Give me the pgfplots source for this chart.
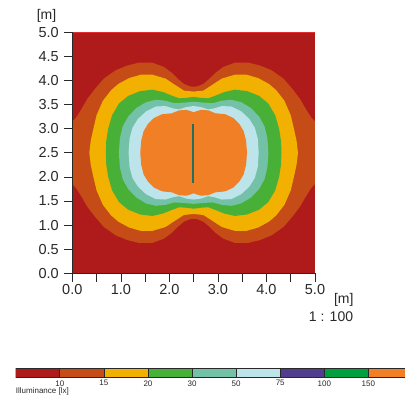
\documentclass[border=0pt]{standalone}
\usepackage{fontspec}
\setmainfont{Liberation Sans}
\usepackage{pgfplots}
\pgfplotsset{compat=1.18}
\definecolor{cA}{RGB}{175,27,27}
\definecolor{cB}{RGB}{197,75,23}
\definecolor{cC}{RGB}{242,177,0}
\definecolor{cD}{RGB}{72,175,55}
\definecolor{cE}{RGB}{115,194,167}
\definecolor{cF}{RGB}{189,227,235}
\definecolor{cG}{RGB}{82,60,143}
\definecolor{cH}{RGB}{0,160,64}
\definecolor{cI}{RGB}{240,127,38}
\definecolor{lum}{RGB}{35,110,95}
\definecolor{edge}{RGB}{225,45,45}
\definecolor{txt}{RGB}{40,40,40}
\begin{document}
\begin{tikzpicture}
\useasboundingbox (0pt,0pt) rectangle (405pt,398pt);
\begin{axis}[at={(72.3pt,124.7pt)}, anchor=south west, scale only axis,
  width=242.7pt, height=241pt,
  xmin=0, xmax=5, ymin=0, ymax=5,
  axis lines*=left, axis on top,
  axis line style={txt, line width=0.6pt},
  tick align=outside, major tick length=8.5pt, minor tick length=8.5pt,
  tick style={txt, line width=0.6pt},
  xtick={0,1,2,3,4,5}, minor xtick={0.5,1.5,2.5,3.5,4.5},
  ytick={0,0.5,1,1.5,2,2.5,3,3.5,4,4.5,5},
  /pgf/number format/assume math mode=true,
  /pgf/number format/.cd, fixed, fixed zerofill, precision=1, /pgfplots/.cd,
  ticklabel style={font=\fontsize{14.5}{17}\selectfont, text=txt},
  yticklabel style={xshift=-1.5pt},
  xticklabel style={yshift=1pt},
  clip=true]
\addplot[draw=none, fill=cA] coordinates {(0,0)(5,0)(5,5)(0,5)} -- cycle;
% 10 lx
\addplot[draw=none, fill=cB] coordinates {
(0,2.5)(0,3.15)(0.07,3.22)(0.19,3.41)(0.31,3.62)(0.47,3.83)(0.65,4.04)(0.89,4.21)(1.13,4.31)(1.37,4.37)(1.65,4.37)(1.89,4.28)(2.05,4.16)(2.18,4.03)(2.30,3.93)(2.42,3.88)(2.5,3.87)
(2.58,3.88)(2.70,3.93)(2.82,4.03)(2.95,4.16)(3.11,4.28)(3.35,4.37)(3.63,4.37)(3.87,4.31)(4.11,4.21)(4.35,4.04)(4.53,3.83)(4.69,3.62)(4.81,3.41)(4.93,3.22)(5,3.15)(5,2.5)
(5,1.85)(4.93,1.78)(4.81,1.59)(4.69,1.38)(4.53,1.17)(4.35,0.96)(4.11,0.79)(3.87,0.69)(3.63,0.63)(3.35,0.63)(3.11,0.72)(2.95,0.84)(2.82,0.97)(2.70,1.07)(2.58,1.12)(2.5,1.13)
(2.42,1.12)(2.30,1.07)(2.18,0.97)(2.05,0.84)(1.89,0.72)(1.65,0.63)(1.37,0.63)(1.13,0.69)(0.89,0.79)(0.65,0.96)(0.47,1.17)(0.31,1.38)(0.19,1.59)(0.07,1.78)(0,1.85)
} -- cycle;
% 15 lx
\addplot[draw=none, fill=cC] coordinates {
(0.35,2.5)(0.38,2.75)(0.43,2.98)(0.50,3.28)(0.63,3.58)(0.80,3.80)(0.95,3.93)(1.17,4.05)(1.41,4.12)(1.65,4.12)(1.92,4.04)(2.13,3.90)(2.30,3.79)(2.5,3.77)
(2.70,3.79)(2.87,3.90)(3.08,4.04)(3.35,4.12)(3.59,4.12)(3.83,4.05)(4.05,3.93)(4.20,3.80)(4.37,3.58)(4.50,3.28)(4.57,2.98)(4.62,2.75)(4.65,2.5)
(4.62,2.25)(4.57,2.02)(4.50,1.72)(4.37,1.42)(4.20,1.20)(4.05,1.07)(3.83,0.95)(3.59,0.88)(3.35,0.88)(3.08,0.96)(2.87,1.10)(2.70,1.21)(2.5,1.23)
(2.30,1.21)(2.13,1.10)(1.92,0.96)(1.65,0.88)(1.41,0.88)(1.17,0.95)(0.95,1.07)(0.80,1.20)(0.63,1.42)(0.50,1.72)(0.43,2.02)(0.38,2.25)
} -- cycle;
% 20 lx
\addplot[draw=none, fill=cD] coordinates {
(0.69,2.5)(0.70,2.75)(0.74,3.0)(0.82,3.28)(0.96,3.52)(1.15,3.68)(1.40,3.78)(1.65,3.81)(1.87,3.76)(2.04,3.69)(2.20,3.63)(2.35,3.64)(2.5,3.66)
(2.65,3.64)(2.80,3.63)(2.96,3.69)(3.13,3.76)(3.35,3.81)(3.60,3.78)(3.85,3.68)(4.04,3.52)(4.18,3.28)(4.26,3.0)(4.30,2.75)(4.31,2.5)
(4.30,2.25)(4.26,2.0)(4.18,1.72)(4.04,1.48)(3.85,1.32)(3.60,1.22)(3.35,1.19)(3.13,1.24)(2.96,1.31)(2.80,1.37)(2.65,1.36)(2.5,1.34)
(2.35,1.36)(2.20,1.37)(2.04,1.31)(1.87,1.24)(1.65,1.19)(1.40,1.22)(1.15,1.32)(0.96,1.48)(0.82,1.72)(0.74,2.0)(0.70,2.25)
} -- cycle;
% 30 lx
\addplot[draw=none, fill=cE] coordinates {
(0.96,2.5)(0.98,2.8)(1.04,3.05)(1.15,3.25)(1.32,3.43)(1.52,3.55)(1.72,3.60)(1.92,3.58)(2.10,3.53)(2.30,3.54)(2.5,3.56)
(2.70,3.54)(2.90,3.53)(3.08,3.58)(3.28,3.60)(3.48,3.55)(3.68,3.43)(3.85,3.25)(3.96,3.05)(4.02,2.8)(4.04,2.5)
(4.02,2.2)(3.96,1.95)(3.85,1.75)(3.68,1.57)(3.48,1.45)(3.28,1.40)(3.08,1.42)(2.90,1.47)(2.70,1.46)(2.5,1.44)
(2.30,1.46)(2.10,1.47)(1.92,1.42)(1.72,1.40)(1.52,1.45)(1.32,1.57)(1.15,1.75)(1.04,1.95)(0.98,2.2)
} -- cycle;
% 50 lx
\addplot[draw=none, fill=cF] coordinates {
(1.16,2.5)(1.18,2.8)(1.24,3.02)(1.35,3.20)(1.52,3.36)(1.72,3.46)(1.92,3.47)(2.08,3.42)(2.20,3.40)(2.35,3.45)(2.5,3.47)
(2.65,3.45)(2.80,3.40)(2.92,3.42)(3.08,3.47)(3.28,3.46)(3.48,3.36)(3.65,3.20)(3.76,3.02)(3.82,2.8)(3.84,2.5)
(3.82,2.2)(3.76,1.98)(3.65,1.80)(3.48,1.64)(3.28,1.54)(3.08,1.53)(2.92,1.58)(2.80,1.60)(2.65,1.55)(2.5,1.53)
(2.35,1.55)(2.20,1.60)(2.08,1.58)(1.92,1.53)(1.72,1.54)(1.52,1.64)(1.35,1.80)(1.24,1.98)(1.18,2.2)
} -- cycle;
% >150 lx
\addplot[draw=none, fill=cI] coordinates {
(1.40,2.5)(1.42,2.75)(1.47,2.95)(1.56,3.10)(1.68,3.22)(1.85,3.30)(2.05,3.32)(2.20,3.38)(2.35,3.39)(2.45,3.36)(2.5,3.34)
(2.55,3.36)(2.65,3.39)(2.80,3.38)(2.95,3.32)(3.15,3.30)(3.32,3.22)(3.44,3.10)(3.53,2.95)(3.58,2.75)(3.60,2.5)
(3.58,2.25)(3.53,2.05)(3.44,1.90)(3.32,1.78)(3.15,1.70)(2.95,1.68)(2.80,1.62)(2.65,1.61)(2.55,1.64)(2.5,1.66)
(2.45,1.64)(2.35,1.61)(2.20,1.62)(2.05,1.68)(1.85,1.70)(1.68,1.78)(1.56,1.90)(1.47,2.05)(1.42,2.25)
} -- cycle;
% luminaire
\addplot[lum, line width=1.8pt] coordinates {(2.49,1.88)(2.49,3.09)};
% red edges top/right
\addplot[edge, line width=0.8pt] coordinates {(0,5)(5,5)(5,0)};
\end{axis}
% colour scale
\begin{axis}[at={(15.7pt,20.7pt)}, anchor=south west, scale only axis,
  width=389.3pt, height=9pt,
  xmin=0, xmax=8.83, ymin=0, ymax=1,
  axis line style={draw=none}, ytick=\empty,
  xtick={1,2,3,4,5,6,7,8}, xticklabels={10,15,20,30,50,75,100,150},
  major tick length=0pt,
  xticklabel style={font=\fontsize{8}{9}\selectfont, text=txt, inner sep=0pt, yshift=-3pt},
  clip=true]
\addplot[draw=txt, line width=0.6pt, fill=cA] coordinates {(0,0)(1,0)(1,1)(0,1)} -- cycle;
\addplot[draw=txt, line width=0.6pt, fill=cB] coordinates {(1,0)(2,0)(2,1)(1,1)} -- cycle;
\addplot[draw=txt, line width=0.6pt, fill=cC] coordinates {(2,0)(3,0)(3,1)(2,1)} -- cycle;
\addplot[draw=txt, line width=0.6pt, fill=cD] coordinates {(3,0)(4,0)(4,1)(3,1)} -- cycle;
\addplot[draw=txt, line width=0.6pt, fill=cE] coordinates {(4,0)(5,0)(5,1)(4,1)} -- cycle;
\addplot[draw=txt, line width=0.6pt, fill=cF] coordinates {(5,0)(6,0)(6,1)(5,1)} -- cycle;
\addplot[draw=txt, line width=0.6pt, fill=cG] coordinates {(6,0)(7,0)(7,1)(6,1)} -- cycle;
\addplot[draw=txt, line width=0.6pt, fill=cH] coordinates {(7,0)(8,0)(8,1)(7,1)} -- cycle;
\addplot[draw=txt, line width=0.6pt, fill=cI] coordinates {(8,0)(9,0)(9,1)(8,1)} -- cycle;
\end{axis}
\node[font=\fontsize{8}{9}\selectfont, text=txt, anchor=west, inner sep=0pt] at (15.7pt,6.3pt) {Illuminance [lx]};
\node[font=\fontsize{14}{16}\selectfont, text=txt, inner sep=0pt] at (46.5pt,382.2pt) {[m]};
\node[font=\fontsize{14}{16}\selectfont, text=txt, inner sep=0pt] at (343.8pt,98pt) {[m]};
\node[font=\fontsize{14}{16}\selectfont, text=txt, anchor=east, inner sep=0pt] at (353.3pt,81.5pt) {1 : 100};
\end{tikzpicture}
\end{document}
